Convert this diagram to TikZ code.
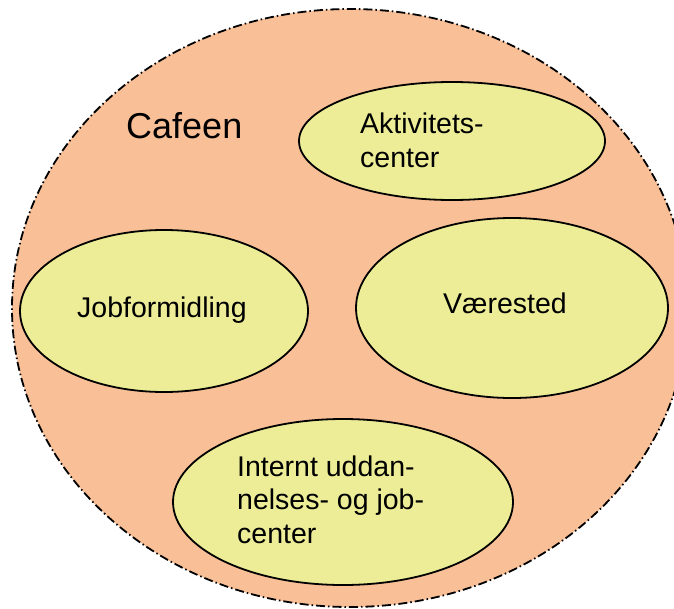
\documentclass[tikz,border=0pt]{standalone}
\usepackage{fontspec}
\setmainfont{Liberation Sans}
\usetikzlibrary{shapes.geometric}
\definecolor{peach}{RGB}{249,192,152}
\definecolor{pale}{RGB}{237,237,152}
\tikzset{
  outer/.style={ellipse, draw=black, fill=peach, line width=1.8pt,
    dash pattern=on 9pt off 3pt on 1.5pt off 3pt, inner sep=0pt},
  bubble/.style={ellipse, draw=black, fill=pale, line width=1.8pt, inner sep=0pt},
  lbl/.style={inner sep=0pt, font=\fontsize{28.5}{33.5}\selectfont, align=left},
}
\begin{document}
\begin{tikzpicture}[x=1pt,y=-1pt]
\useasboundingbox (0,0) rectangle (674,608);
\node[outer, minimum width=676pt, minimum height=598pt] (cafe) at (350,308) {};
\node[inner sep=0pt, font=\fontsize{36}{40}\selectfont, anchor=base west] (cafeen) at (126,138) {Cafeen};
\node[bubble, minimum width=306pt, minimum height=118pt] (akt) at (452,141) {};
\node[lbl, anchor=base west] (akttxt) at (360,167) {Aktivitets-\\center};
\node[bubble, minimum width=288pt, minimum height=162pt] (job) at (164,311) {};
\node[lbl, anchor=base west] (jobtxt) at (77,317) {Jobformidling};
\node[bubble, minimum width=312pt, minimum height=180pt] (vaer) at (512,308) {};
\node[lbl, anchor=base west] (vaertxt) at (443,313) {Værested};
\node[bubble, minimum width=340pt, minimum height=166pt] (int) at (343,502) {};
\node[lbl, anchor=base west] (inttxt) at (237,543) {Internt uddan-\\nelses- og job-\\center};
\end{tikzpicture}
\end{document}
